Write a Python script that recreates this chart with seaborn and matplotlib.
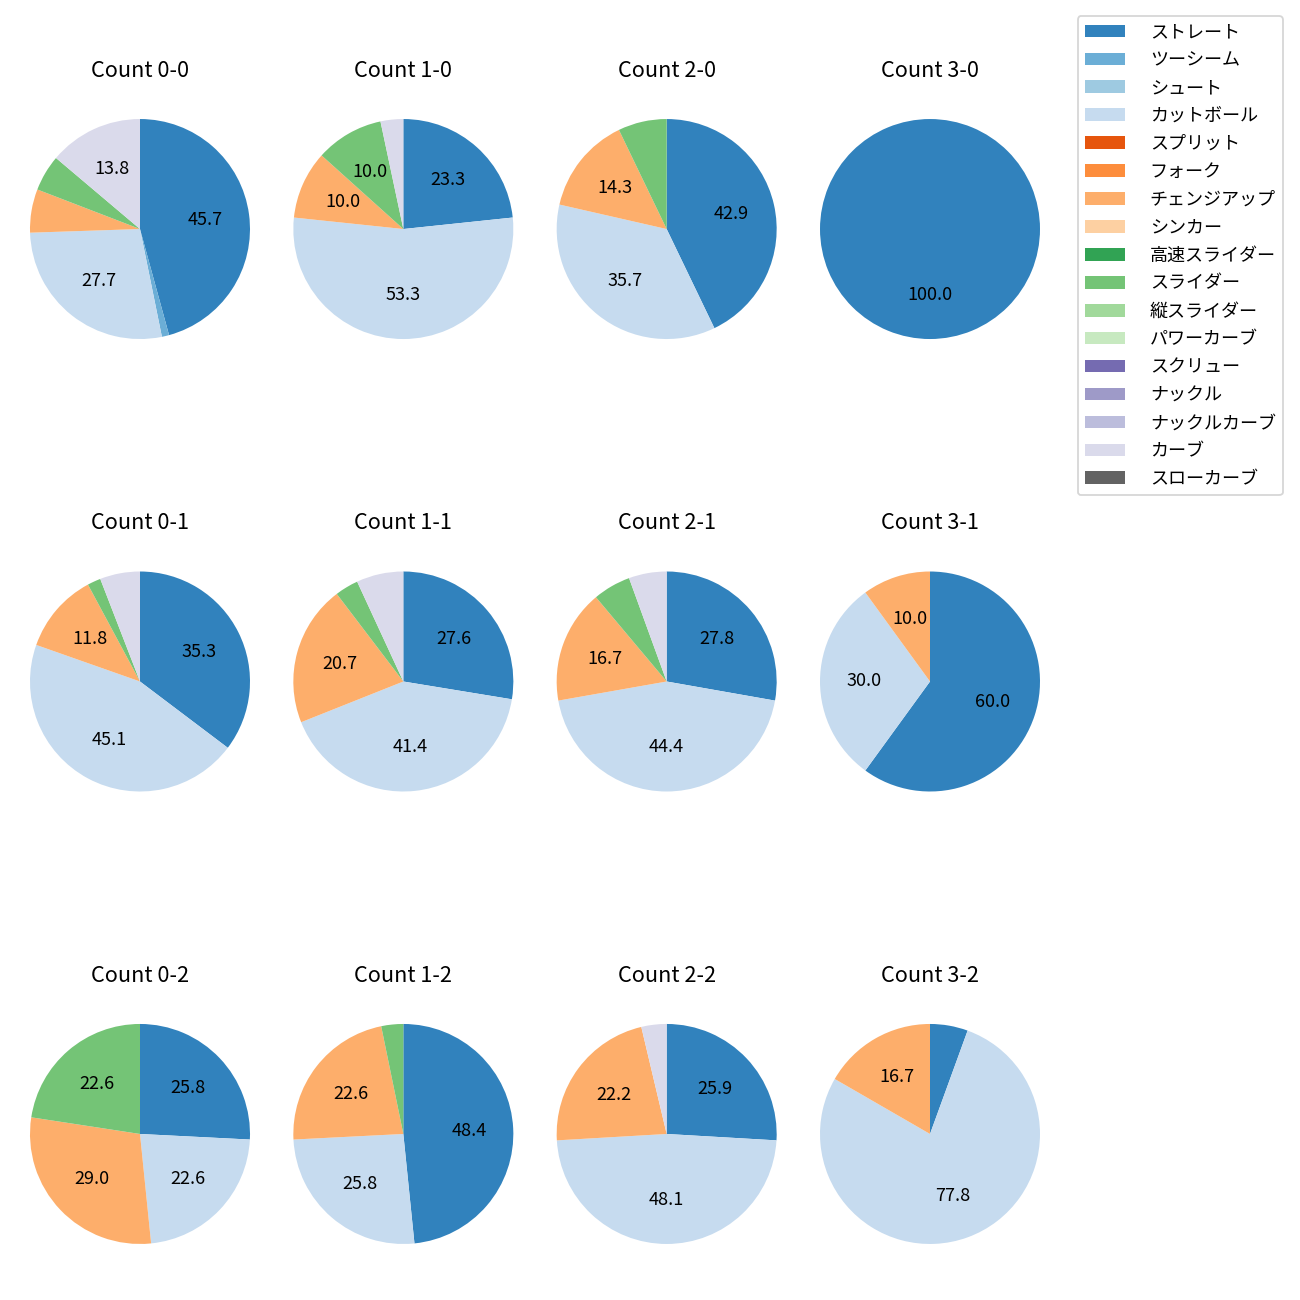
import matplotlib
matplotlib.use('Agg')
import matplotlib.pyplot as plt
import seaborn as sns
from matplotlib.patches import Patch

# 球種（凡例の順）
pitch_types = ['ストレート', 'ツーシーム', 'シュート', 'カットボール', 'スプリット', 'フォーク',
               'チェンジアップ', 'シンカー', '高速スライダー', 'スライダー', '縦スライダー',
               'パワーカーブ', 'スクリュー', 'ナックル', 'ナックルカーブ', 'カーブ', 'スローカーブ']

# カウント別の投球数（pitch_types と同じ順）
c0_0 = [43, 1, 0, 26, 0, 0, 6, 0, 0, 5, 0, 0, 0, 0, 0, 13, 0]
c1_0 = [7, 0, 0, 16, 0, 0, 3, 0, 0, 3, 0, 0, 0, 0, 0, 1, 0]
c2_0 = [6, 0, 0, 5, 0, 0, 2, 0, 0, 1, 0, 0, 0, 0, 0, 0, 0]
c3_0 = [3, 0, 0, 0, 0, 0, 0, 0, 0, 0, 0, 0, 0, 0, 0, 0, 0]
c0_1 = [18, 0, 0, 23, 0, 0, 6, 0, 0, 1, 0, 0, 0, 0, 0, 3, 0]
c1_1 = [8, 0, 0, 12, 0, 0, 6, 0, 0, 1, 0, 0, 0, 0, 0, 2, 0]
c2_1 = [5, 0, 0, 8, 0, 0, 3, 0, 0, 1, 0, 0, 0, 0, 0, 1, 0]
c3_1 = [6, 0, 0, 3, 0, 0, 1, 0, 0, 0, 0, 0, 0, 0, 0, 0, 0]
c0_2 = [8, 0, 0, 7, 0, 0, 9, 0, 0, 7, 0, 0, 0, 0, 0, 0, 0]
c1_2 = [15, 0, 0, 8, 0, 0, 7, 0, 0, 1, 0, 0, 0, 0, 0, 0, 0]
c2_2 = [7, 0, 0, 13, 0, 0, 6, 0, 0, 0, 0, 0, 0, 0, 0, 1, 0]
c3_2 = [1, 0, 0, 14, 0, 0, 3, 0, 0, 0, 0, 0, 0, 0, 0, 0, 0]

titles = ['Count 0-0', 'Count 1-0', 'Count 2-0', 'Count 3-0',
          'Count 0-1', 'Count 1-1', 'Count 2-1', 'Count 3-1',
          'Count 0-2', 'Count 1-2', 'Count 2-2', 'Count 3-2']
panels = [c0_0, c1_0, c2_0, c3_0, c0_1, c1_1, c2_1, c3_1, c0_2, c1_2, c2_2, c3_2]

sns.set_style('white')
plt.rcParams['font.family'] = ['Noto Sans CJK JP', 'DejaVu Sans']
plt.rcParams['text.color'] = 'black'
colors = sns.color_palette('tab20c', 20)[:len(pitch_types)]

fig, axes = plt.subplots(3, 4, figsize=(10, 10), dpi=130)
fig.subplots_adjust(left=2.5 / 1300, right=1067.5 / 1300, top=1 - 91.5 / 1300,
                    bottom=1 - 1271.5 / 1300, wspace=-0.0424, hspace=0.645)

for ax, title, vals in zip(axes.flat, titles, panels):
    idx = [i for i, v in enumerate(vals) if v > 0]
    ax.pie([vals[i] for i in idx], colors=[colors[i] for i in idx],
           startangle=90, counterclock=False,
           wedgeprops={'edgecolor': 'none', 'linewidth': 0},
           autopct=lambda p: f'{p:.1f}' if p >= 10 else '')
    ax.set_title(title, color='black', pad=8.2)

handles = [Patch(facecolor=c, edgecolor='none', label=p) for p, c in zip(pitch_types, colors)]
fig.legend(handles=handles, loc='upper right', borderaxespad=0,
           handlelength=2.2, handletextpad=1.4, labelspacing=0.55,
           bbox_to_anchor=(1283 / 1300, 1 - 16 / 1300))

fig.savefig('out.png', dpi=130)
